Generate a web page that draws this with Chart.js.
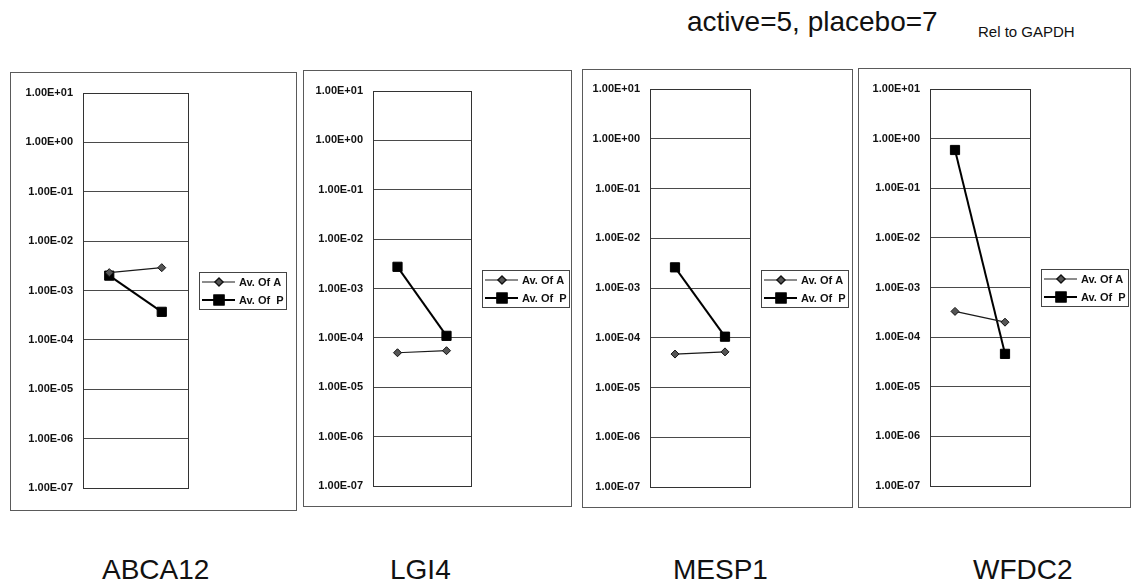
<!DOCTYPE html>
<html>
<head>
<meta charset="utf-8">
<script src="https://cdn.jsdelivr.net/npm/chart.js@4.4.1/dist/chart.umd.min.js"></script>
<style>
  html, body { margin: 0; padding: 0; background: #ffffff; }
  body { width: 1134px; height: 588px; position: relative; overflow: hidden;
         font-family: "Liberation Sans", Arial, sans-serif; color: #111; }
  .panel { position: absolute; }
  .txt { position: absolute; white-space: pre; line-height: 1; }
</style>
</head>
<body>
<div class="txt" style="left:687px; top:8px; font-size:28px;">active=5, placebo=7</div>
<div class="txt" style="left:978px; top:24px; font-size:15px;">Rel to GAPDH</div>

<div id="panels"></div>

<script>
// Expression relative to GAPDH, two time points per gene
const genes = ['ABCA12', 'LGI4', 'MESP1', 'WFDC2'];
const timepoints = ['1', '2'];
const seriesNames = ['Av. Of A', 'Av. Of  P'];
const avOfA = [
  [2.3e-3, 2.9e-3],
  [5.0e-5, 5.5e-5],
  [4.7e-5, 5.2e-5],
  [3.3e-4, 2.0e-4]
];
const avOfP = [
  [2.0e-3, 3.7e-4],
  [2.75e-3, 1.1e-4],
  [2.6e-3, 1.05e-4],
  [0.59, 4.6e-5]
];
const tickValues = [1e1, 1e0, 1e-1, 1e-2, 1e-3, 1e-4, 1e-5, 1e-6, 1e-7];

// panel frame and plot-area placement on the page
const frames = [
  { x: 10,  y: 72, w: 287, h: 439, axisW: 73, top: 21, bottom: 23, right: 109, labelX: 102 },
  { x: 303, y: 70, w: 269, h: 437, axisW: 70, top: 21, bottom: 21, right: 101, labelX: 390 },
  { x: 582, y: 69, w: 271, h: 439, axisW: 68, top: 20, bottom: 21, right: 103, labelX: 673 },
  { x: 858, y: 68, w: 273, h: 440, axisW: 72, top: 21, bottom: 22, right: 101, labelX: 973 }
];

function sciLabel(v) {
  const e = Math.round(Math.log10(v));
  const sign = e < 0 ? '-' : '+';
  const mag = String(Math.abs(e)).padStart(2, '0');
  return '1.00E' + sign + mag;
}

// frame around the panel, box around the plot area, and a boxed legend
const panelDecor = {
  id: 'panelDecor',
  beforeDraw(chart) {
    const ctx = chart.ctx;
    ctx.save();
    ctx.fillStyle = '#ffffff';
    ctx.fillRect(0, 0, chart.width, chart.height);
    ctx.strokeStyle = '#5a5a5a';
    ctx.lineWidth = 1;
    ctx.strokeRect(0.5, 0.5, chart.width - 1, chart.height - 1);
    ctx.restore();
  },
  afterDatasetsDraw(chart) {
    const ctx = chart.ctx;
    const a = chart.chartArea;
    ctx.save();
    ctx.strokeStyle = '#333';
    ctx.lineWidth = 1;
    ctx.strokeRect(Math.round(a.left) + 0.5, Math.round(a.top) + 0.5,
                   Math.round(a.right - a.left), Math.round(a.bottom - a.top));

    // legend
    const lw = 87, lh = 37;
    const lx = Math.round(a.right) + 11;
    const ly = Math.round((a.top + a.bottom) / 2 - lh / 2);
    ctx.strokeStyle = '#444';
    ctx.strokeRect(lx + 0.5, ly + 0.5, lw, lh);
    ctx.font = 'bold 11px "Liberation Sans", Arial, sans-serif';
    ctx.textBaseline = 'middle';
    ctx.fillStyle = '#111';
    chart.data.datasets.forEach((ds, i) => {
      const cy = ly + 10 + i * 18;
      ctx.strokeStyle = ds.borderColor;
      ctx.lineWidth = ds.borderWidth;
      ctx.beginPath();
      ctx.moveTo(lx + 3, cy);
      ctx.lineTo(lx + 36, cy);
      ctx.stroke();
      Chart.helpers.drawPoint(ctx, {
        pointStyle: ds.pointStyle,
        radius: ds.pointRadius,
        borderWidth: 1,
        rotation: 0
      }, lx + 20, cy);
      ctx.fillStyle = ds.pointBackgroundColor;
      ctx.strokeStyle = ds.pointBorderColor;
      ctx.fill();
      ctx.stroke();
      ctx.fillStyle = '#111';
      ctx.fillText(ds.label, lx + 40, cy + 1);
    });
    ctx.restore();
  }
};

const host = document.getElementById('panels');
genes.forEach((gene, g) => {
  const f = frames[g];
  const canvas = document.createElement('canvas');
  canvas.className = 'panel';
  canvas.width = f.w;
  canvas.height = f.h;
  canvas.style.left = f.x + 'px';
  canvas.style.top = f.y + 'px';
  canvas.style.width = f.w + 'px';
  canvas.style.height = f.h + 'px';
  host.appendChild(canvas);

  const label = document.createElement('div');
  label.className = 'txt';
  label.style.left = f.labelX + 'px';
  label.style.top = '556px';
  label.style.fontSize = '28px';
  label.textContent = gene;
  document.body.appendChild(label);

  new Chart(canvas, {
    type: 'line',
    data: {
      labels: timepoints,
      datasets: [
        {
          label: seriesNames[0],
          data: avOfA[g],
          borderColor: '#1a1a1a',
          borderWidth: 1.2,
          pointStyle: 'rectRot',
          pointRadius: 4,
          pointBackgroundColor: '#555555',
          pointBorderColor: '#111',
          pointBorderWidth: 1,
          fill: false,
          tension: 0
        },
        {
          label: seriesNames[1],
          data: avOfP[g],
          borderColor: '#000000',
          borderWidth: 2,
          pointStyle: 'rect',
          pointRadius: 6.5,
          pointBackgroundColor: '#000000',
          pointBorderColor: '#000000',
          pointBorderWidth: 1,
          fill: false,
          tension: 0
        }
      ]
    },
    options: {
      responsive: false,
      animation: false,
      devicePixelRatio: 1,
      layout: { padding: { left: 0, top: f.top, bottom: f.bottom, right: f.right } },
      plugins: { legend: { display: false }, tooltip: { enabled: false } },
      scales: {
        x: {
          type: 'category',
          offset: true,
          display: false
        },
        y: {
          type: 'logarithmic',
          min: 1e-7,
          max: 1e1,
          afterBuildTicks(scale) {
            scale.ticks = tickValues.map(v => ({ value: v, major: true }));
          },
          afterFit(scale) { scale.width = f.axisW; },
          border: { display: false },
          grid: { color: '#4a4a4a', lineWidth: 1, drawTicks: false },
          ticks: {
            padding: 10,
            color: '#111',
            font: { family: '"Liberation Sans", Arial, sans-serif', size: 11, weight: 'bold' },
            callback: (v) => sciLabel(v)
          }
        }
      }
    },
    plugins: [panelDecor]
  });
});
</script>
</body>
</html>
